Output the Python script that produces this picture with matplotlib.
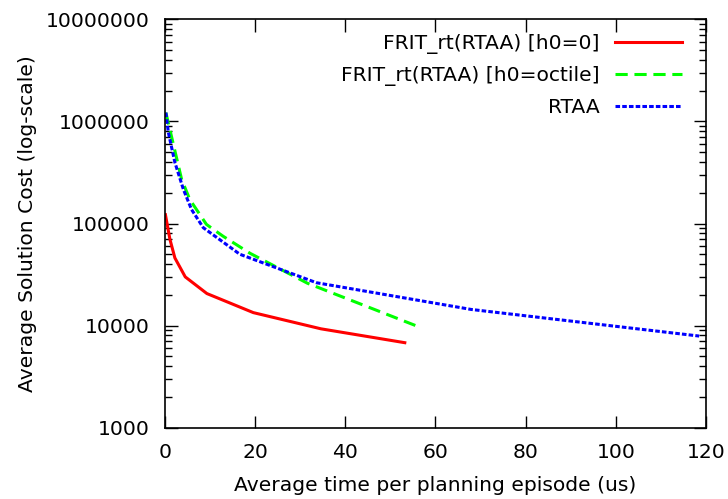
import matplotlib
matplotlib.use("Agg")
import matplotlib.pyplot as plt
from matplotlib.ticker import LogLocator, FuncFormatter, MultipleLocator, NullFormatter

# ---- data ----
frit0_t = [0.1, 1.1, 2.2, 4.5, 9.3, 19.6, 34.6, 53.2]
frit0_cost = [122000, 70000, 46000, 30000, 20600, 13400, 9300, 6800]

frit_oct_t = [0.2, 3.7, 5.5, 9.2, 12.9, 18.9, 31.6, 56.9]
frit_oct_cost = [1220000, 270000, 172000, 98000, 75000, 51000, 26000, 9500]

rtaa_t = [0.2, 0.75, 2.2, 4.1, 5.9, 8.5, 16.6, 33.6, 67.9, 118.5]
rtaa_cost = [1220000, 780000, 396000, 215000, 137000, 91000, 50000, 26300, 14400, 7900]

FS = 14.6

fig = plt.figure(figsize=(7.28, 4.99), dpi=100)
ax = fig.add_axes([0.2266, 0.1429, 0.7431, 0.8184])

ax.plot(frit0_t, frit0_cost, color="#ff0000", lw=2.2, label="FRIT_rt(RTAA) [h0=0]")
ax.plot(frit_oct_t, frit_oct_cost, color="#00ff00", lw=2.2, dashes=(4, 2.2),
        label="FRIT_rt(RTAA) [h0=octile]")
ax.plot(rtaa_t, rtaa_cost, color="#0000ff", lw=2.2, dashes=(1.5, 0.7), label="RTAA")

ax.set_yscale("log")
ax.set_xlim(0, 120)
ax.set_ylim(1000, 10000000)
ax.xaxis.set_major_locator(MultipleLocator(20))
ax.yaxis.set_major_locator(LogLocator(base=10, numticks=10))
ax.yaxis.set_minor_locator(LogLocator(base=10, subs=range(2, 10), numticks=10))
ax.yaxis.set_major_formatter(FuncFormatter(lambda v, p: f"{int(round(v))}"))
ax.yaxis.set_minor_formatter(NullFormatter())

ax.tick_params(which="both", direction="in", top=True, right=True,
               labelsize=FS, colors="black", width=1.0)
ax.tick_params(which="major", length=9, pad=11)
ax.tick_params(which="minor", length=5)
for s in ax.spines.values():
    s.set_linewidth(1.2)

ax.set_xlabel("Average time per planning episode (us)", fontsize=FS, labelpad=10)
ax.set_ylabel("Average Solution Cost (log-scale)", fontsize=FS, labelpad=6)

leg = ax.legend(loc="upper right", bbox_to_anchor=(0.9556, 0.963), frameon=False,
                fontsize=FS, markerfirst=False, handlelength=3.3, handletextpad=0.75,
                labelspacing=0.58, borderpad=0, borderaxespad=0)
# right-align the rows like gnuplot's key
for col in leg._legend_handle_box.get_children():
    col.align = "right"

fig.savefig("out.png", dpi=100)
